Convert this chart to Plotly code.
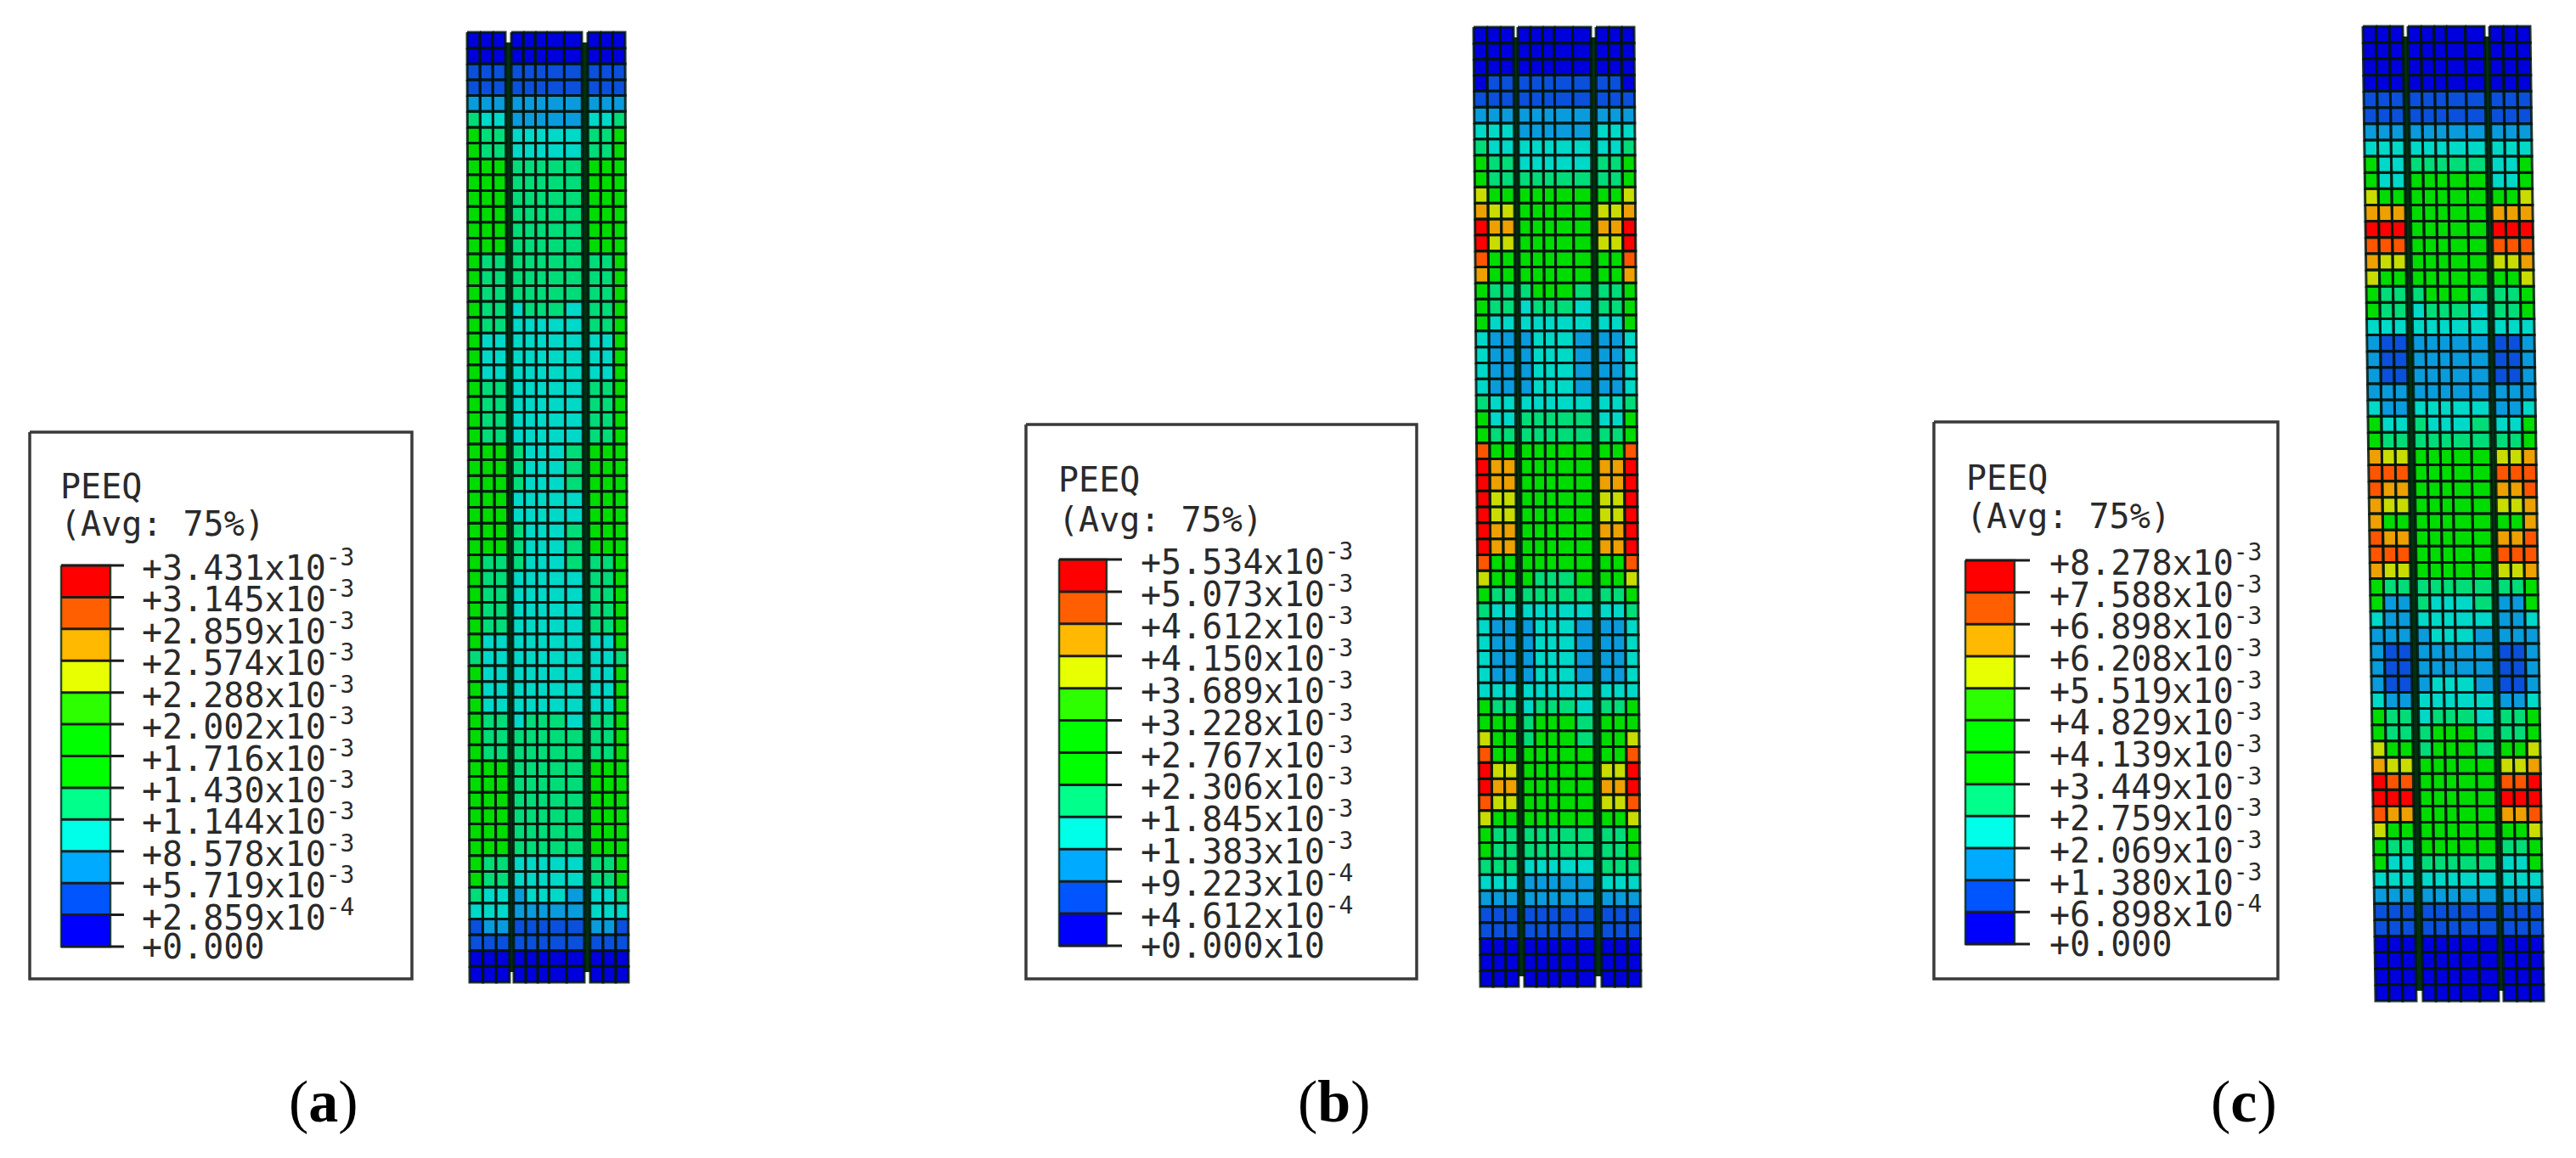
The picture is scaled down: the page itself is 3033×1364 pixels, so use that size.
import plotly.graph_objects as go

# ---- data: contour band index (0 = lowest legend band, 11 = highest) per element row, top to bottom
a_edge = [0,0,1,1,2,4,6,6,6,6,6,6,6,6,6,6,6,6,6,6,6,6,6,6,6,6,6,6,6,6,6,6,6,6,6,6,6,6,6,4,6,6,6,6,6,6,6,6,6,6,6,6,6,6,4,3,1,1,0,0]
a_side = [0,0,1,1,2,3,4,4,6,6,6,6,6,6,4,4,4,4,4,3,3,3,4,4,4,4,6,6,6,6,6,6,6,4,4,4,4,4,3,3,3,3,3,4,4,4,6,6,6,6,6,6,4,4,3,3,2,1,0,0]
a_core_edge = [0,0,1,1,2,2,3,3,4,4,4,4,4,4,4,4,4,3,3,3,3,3,3,3,3,3,4,4,4,3,3,4,4,4,3,3,3,3,3,3,3,3,3,3,4,4,4,4,4,4,4,4,3,3,2,2,1,1,0,0]
a_core_mid = [0,0,1,1,2,2,3,3,4,4,4,4,4,4,4,4,4,4,3,3,3,3,3,3,3,3,3,3,3,3,3,3,3,3,3,3,3,3,3,3,3,3,3,4,4,4,4,4,4,4,4,4,3,3,3,2,1,1,0,0]

b_edge = [0,0,0,0,1,2,3,4,6,6,8,9,11,11,10,9,6,6,6,3,3,3,3,4,6,6,10,11,11,11,11,11,11,10,8,6,4,3,3,3,3,3,6,6,8,10,11,11,10,8,6,6,4,3,2,1,1,0,0,0]
b_side = [0,0,0,1,1,2,3,3,4,4,6,8,9,8,6,6,4,4,3,2,2,2,2,3,3,4,6,9,9,8,8,9,9,6,6,4,3,2,2,2,2,3,4,6,6,6,8,9,8,6,4,4,4,3,2,1,1,0,0,0]
b_core_edge = [0,0,0,1,1,2,2,3,3,4,6,6,6,6,6,6,4,3,3,2,2,2,2,3,4,4,6,6,6,6,6,6,6,6,6,4,3,2,2,2,2,3,3,4,4,6,6,6,6,6,4,4,3,2,2,1,1,0,0,0]
b_core_mid = [0,0,0,1,1,2,2,3,3,4,6,6,6,6,6,6,6,4,3,3,3,3,3,3,4,4,6,6,6,6,6,6,6,6,4,4,3,3,3,3,3,3,4,6,6,6,6,6,6,6,4,4,3,2,2,1,1,0,0,0]

c_edge = [0,0,0,0,1,1,2,3,6,6,8,9,11,10,9,8,6,6,3,2,2,2,2,3,6,6,9,10,10,9,9,10,10,9,6,6,3,2,2,2,2,3,6,6,8,9,11,11,10,8,6,6,3,2,1,1,0,0,0,0]
c_side = [0,0,0,0,1,1,2,3,3,3,6,9,11,10,8,6,4,4,3,1,1,1,2,2,3,4,8,10,9,8,6,9,10,8,4,2,2,2,1,1,1,2,4,4,6,8,10,11,9,6,4,3,3,2,1,1,0,0,0,0]
c_core_edge = [0,0,0,0,1,1,2,3,4,6,6,6,6,6,6,6,4,3,3,2,2,2,2,3,4,4,6,6,6,6,6,6,6,6,4,4,3,2,2,2,2,3,3,4,4,6,6,6,6,6,6,4,3,2,1,1,0,0,0,0]
c_core_mid = [0,0,0,0,1,1,2,3,4,6,6,6,6,6,6,6,6,4,3,2,2,2,2,3,3,4,6,6,6,6,6,6,6,6,4,3,3,3,2,2,3,3,4,6,6,6,6,6,6,6,6,4,3,2,1,1,0,0,0,0]

a_labels = ["+3.431x10<sup>-3</sup>","+3.145x10<sup>-3</sup>","+2.859x10<sup>-3</sup>","+2.574x10<sup>-3</sup>","+2.288x10<sup>-3</sup>","+2.002x10<sup>-3</sup>","+1.716x10<sup>-3</sup>","+1.430x10<sup>-3</sup>","+1.144x10<sup>-3</sup>","+8.578x10<sup>-3</sup>","+5.719x10<sup>-3</sup>","+2.859x10<sup>-4</sup>","+0.000"]
b_labels = ["+5.534x10<sup>-3</sup>","+5.073x10<sup>-3</sup>","+4.612x10<sup>-3</sup>","+4.150x10<sup>-3</sup>","+3.689x10<sup>-3</sup>","+3.228x10<sup>-3</sup>","+2.767x10<sup>-3</sup>","+2.306x10<sup>-3</sup>","+1.845x10<sup>-3</sup>","+1.383x10<sup>-3</sup>","+9.223x10<sup>-4</sup>","+4.612x10<sup>-4</sup>","+0.000x10"]
c_labels = ["+8.278x10<sup>-3</sup>","+7.588x10<sup>-3</sup>","+6.898x10<sup>-3</sup>","+6.208x10<sup>-3</sup>","+5.519x10<sup>-3</sup>","+4.829x10<sup>-3</sup>","+4.139x10<sup>-3</sup>","+3.449x10<sup>-3</sup>","+2.759x10<sup>-3</sup>","+2.069x10<sup>-3</sup>","+1.380x10<sup>-3</sup>","+6.898x10<sup>-4</sup>","+0.000"]
bands = list(range(12))

# ---- styles
MESH = ["#0000dc","#0b50dc","#0a9bdc","#00d8c8","#00dc78","#00dc20","#00dc00","#20dc00","#c8dc00","#eda000","#ff5500","#ff0000"]
BAR = ["#0000ff","#0055ff","#00aaff","#00ffe8","#00ff8b","#00ff00","#00ff00","#2eff00","#e7ff00","#ffb900","#ff5f00","#ff0000"]
GRID = "rgba(0,22,14,0.85)"
GROOVE = "#02300f"
TXT = "#2a2a2a"
FONT = "DejaVu Sans Mono"
SIZE = 40

# strip column edges at top and bottom of each model: left block, core, right block
def edges(l0, l1, c0, c1, r0, r1):
    lw, cw, rw = l1 - l0, c1 - c0, r1 - r0
    return [[l0 + lw * f for f in (0, 1/3, 2/3, 1)],
            [c0 + cw * f for f in (0, 0.17, 0.34, 0.5, 0.75, 1)],
            [r0 + rw * f for f in (0, 1/3, 2/3, 1)]]

panels = [
    dict(name="(a)", rows=(a_edge, a_side, a_core_edge, a_core_mid), labels=a_labels,
         top=edges(550, 595, 602, 685, 692, 736), bot=edges(553, 600, 605, 688, 695, 740), y0=38, y1=1157,
         box=(35, 509, 485, 1153), bar=(72, 130, 146), ltx=165, tick0=666, tick1=1115, head=(69, 573, 617), tag=381),
    dict(name="(b)", rows=(b_edge, b_side, b_core_edge, b_core_mid), labels=b_labels,
         top=edges(1735, 1782, 1787, 1873, 1879, 1924), bot=edges(1743, 1788, 1795, 1878, 1886, 1932), y0=32, y1=1162,
         box=(1208, 500, 1668, 1153), bar=(1247, 1303, 1321), ltx=1341, tick0=659, tick1=1114, head=(1244, 565, 612), tag=1571),
    dict(name="(c)", rows=(c_edge, c_side, c_core_edge, c_core_mid), labels=c_labels,
         top=edges(2782, 2829, 2835, 2925, 2931, 2979), bot=edges(2797, 2845, 2853, 2942, 2948, 2995), y0=31, y1=1179,
         box=(2277, 497, 2682, 1153), bar=(2314, 2372, 2390), ltx=2411, tick0=660, tick1=1112, head=(2313, 563, 608), tag=2642),
]

fig = go.Figure()
annotations = []

def poly(x, y, color):
    fig.add_trace(go.Scatter(x=x, y=y, mode="lines", fill="toself", fillcolor=color,
                             line=dict(width=0, color=color), hoverinfo="skip", showlegend=False))

def lines(x, y, color, width):
    fig.add_trace(go.Scatter(x=x, y=y, mode="lines", line=dict(color=color, width=width),
                             hoverinfo="skip", showlegend=False))

for p in panels:
    e, s, ce, cm = p["rows"]
    blocks = [(p["top"][0], p["bot"][0], [e, s, s]),
              (p["top"][1], p["bot"][1], [ce, cm, cm, cm, ce]),
              (p["top"][2], p["bot"][2], [s, s, e])]
    n = len(e)
    rh = (p["y1"] - p["y0"]) / n
    # grooves between the blocks
    for (tl, tr, bl, br) in [(p["top"][0][-1], p["top"][1][0], p["bot"][0][-1], p["bot"][1][0]),
                             (p["top"][1][-1], p["top"][2][0], p["bot"][1][-1], p["bot"][2][0])]:
        poly([tl, tr, br, bl, tl], [p["y0"] + 12, p["y0"] + 12, p["y1"] - 12, p["y1"] - 12, p["y0"] + 12], GROOVE)
    cells = {b: ([], []) for b in bands}
    gx, gy = [], []
    for top, bot, cols in blocks:
        for j, col in enumerate(cols):
            for i, lev in enumerate(col):
                xa = lambda k, r: top[k] + (bot[k] - top[k]) * r / n
                X = [xa(j, i), xa(j + 1, i), xa(j + 1, i + 1), xa(j, i + 1), xa(j, i)]
                Y = [p["y0"] + rh * i] * 2 + [p["y0"] + rh * (i + 1)] * 2 + [p["y0"] + rh * i]
                cells[lev][0].extend(X + [None])
                cells[lev][1].extend(Y + [None])
                gx.extend(X + [None])
                gy.extend(Y + [None])
    for b in bands:
        if cells[b][0]:
            poly(cells[b][0], cells[b][1], MESH[b])
    lines(gx, gy, GRID, 3)

    # legend box
    x0, y0, x1, y1 = p["box"]
    lines([x0, x1, x1, x0, x0], [y0, y0, y1, y1, y0], "#3a3a3a", 3.5)
    bl, br, te = p["bar"]
    step = (p["tick1"] - p["tick0"]) / 12
    for i, b in enumerate(reversed(bands)):
        t = p["tick0"] + step * i
        poly([bl, br, br, bl, bl], [t, t, t + step, t + step, t], BAR[b])
    lines([bl, br, br, bl, bl], [p["tick0"], p["tick0"], p["tick1"], p["tick1"], p["tick0"]], "rgba(0,40,20,0.8)", 2.5)
    tx, ty = [], []
    for i, lab in enumerate(p["labels"]):
        t = p["tick0"] + step * i
        tx += [bl, te, None]
        ty += [t, t, None]
        annotations.append(dict(x=p["ltx"], y=t, text=lab, xanchor="left", yanchor="middle", showarrow=False,
                                xref="x", yref="y", font=dict(family=FONT, size=SIZE, color=TXT)))
    lines(tx, ty, "#1c1c1c", 3)
    hx, h1, h2 = p["head"]
    for yy, tt in ((h1, "PEEQ"), (h2, "(Avg: 75%)")):
        annotations.append(dict(x=hx, y=yy, text=tt, xanchor="left", yanchor="middle", showarrow=False,
                                xref="x", yref="y", font=dict(family=FONT, size=SIZE, color=TXT)))
    letter = p["name"][1]
    annotations.append(dict(x=p["tag"], y=1297, text=f"({'<b>' + letter + '</b>'})", xanchor="center", yanchor="middle",
                            showarrow=False, xref="x", yref="y",
                            font=dict(family="Liberation Serif", size=70, color="#000000")))

fig.update_layout(
    width=3033, height=1364, margin=dict(l=0, r=0, t=0, b=0),
    paper_bgcolor="white", plot_bgcolor="white", showlegend=False,
    xaxis=dict(range=[0, 3033], visible=False, fixedrange=True),
    yaxis=dict(range=[1364, 0], visible=False, fixedrange=True),
    annotations=annotations,
)
fig.write_html("out.html", config=dict(displayModeBar=False),
               post_script="document.body.style.margin='0';document.body.style.overflow='hidden';")
